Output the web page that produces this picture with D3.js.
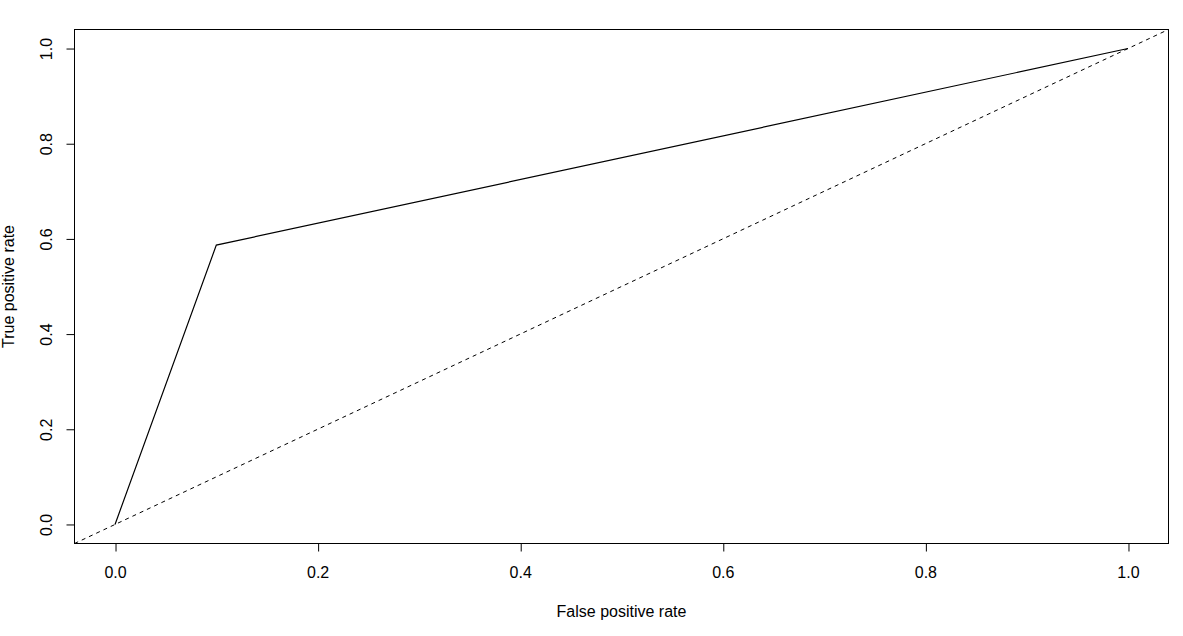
<!DOCTYPE html>
<html><head><meta charset="utf-8">
<script src="https://cdn.jsdelivr.net/npm/d3@7"></script>
<style>body{margin:0;background:#fff}svg{display:block}text{font-family:"Liberation Sans",Arial,sans-serif;fill:#000}</style>
</head><body>
<script>
const fpr = [0, 0.1, 1];
const tpr = [0, 0.587, 1];
const xTicks = [0, 0.2, 0.4, 0.6, 0.8, 1.0];
const yTicks = [0, 0.2, 0.4, 0.6, 0.8, 1.0];
const xLabel = "False positive rate";
const yLabel = "True positive rate";

const W = 1183, H = 636;
const L = 74.5, R = 1168.5, T = 29.5, B = 543.5;
const svg = d3.select("body").append("svg").attr("width", W).attr("height", H);
const x = d3.scaleLinear().domain([-0.04, 1.04]).range([L, R]);
const y = d3.scaleLinear().domain([-0.04, 1.04]).range([B, T]);

svg.append("defs").append("clipPath").attr("id", "clip")
  .append("rect").attr("x", L).attr("y", T).attr("width", R - L).attr("height", B - T);

const xa = svg.append("g").attr("transform", `translate(0,${B})`)
  .call(d3.axisBottom(x).tickValues(xTicks).tickFormat(d3.format(".1f")).tickSize(8).tickSizeOuter(0));
xa.select(".domain").remove();
xa.selectAll("line").attr("stroke", "#000").attr("x1", 0.5).attr("x2", 0.5);
xa.selectAll("text").attr("font-size", 16).attr("dy", null).attr("y", 34);

const ya = svg.append("g").attr("transform", `translate(${L},0)`)
  .call(d3.axisLeft(y).tickValues(yTicks).tickFormat(d3.format(".1f")).tickSize(8).tickSizeOuter(0));
ya.select(".domain").remove();
ya.selectAll("line").attr("stroke", "#000");
ya.selectAll("text").attr("font-size", 16).attr("x", null).attr("dy", null)
  .attr("text-anchor", "middle")
  .attr("transform", "translate(-28,0) rotate(-90)")
  .attr("y", 0).attr("dy", "0.35em");

svg.append("rect").attr("x", L).attr("y", T).attr("width", R - L).attr("height", B - T)
  .attr("fill", "none").attr("stroke", "#000").attr("stroke-width", 1);

const g = svg.append("g").attr("clip-path", "url(#clip)");
g.append("line").attr("x1", x(-0.04)).attr("y1", y(-0.04)).attr("x2", x(1.04)).attr("y2", y(1.04))
  .attr("stroke", "#000").attr("stroke-dasharray", "4,4").attr("stroke-width", 1);

const pts = fpr.map((d, i) => [d, tpr[i]]);
g.append("path").datum(pts)
  .attr("d", d3.line().x(d => x(d[0])).y(d => y(d[1])))
  .attr("fill", "none").attr("stroke", "#000").attr("stroke-width", 1.2);

svg.append("text").attr("x", (L + R) / 2).attr("y", 616.5).attr("text-anchor", "middle")
  .attr("font-size", 16).text(xLabel);
svg.append("text").attr("transform", `translate(13.5,${(T + B) / 2}) rotate(-90)`)
  .attr("text-anchor", "middle").attr("font-size", 16).text(yLabel);
</script>
</body></html>
